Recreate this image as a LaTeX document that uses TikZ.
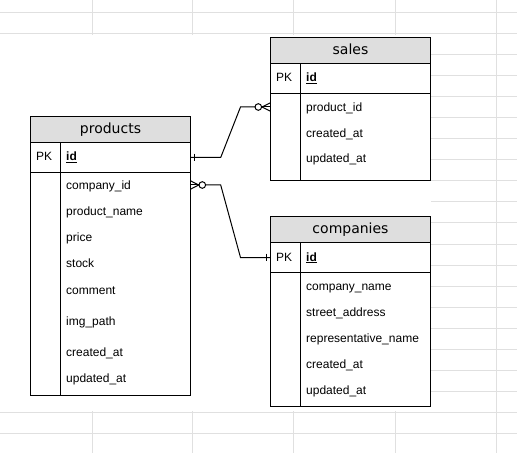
\documentclass[tikz,border=0pt]{standalone}
\usepackage{fontspec}
\setmainfont{Liberation Sans}
\newfontfamily\titlefont{DejaVu Sans}
\definecolor{gridgray}{HTML}{E0E0E0}
\definecolor{hdrgray}{HTML}{DEDEDE}
\tikzset{
  gridline/.style={draw=gridgray, line width=1bp},
  tblbox/.style={draw=black, line width=1bp, inner sep=0pt, outer sep=0pt, anchor=north west, minimum width=160bp},
  hdrbox/.style={tblbox, fill=hdrgray, minimum height=26bp},
  titletext/.style={anchor=base, inner sep=0pt, font=\titlefont\fontsize{14bp}{16bp}\selectfont},
  fldtext/.style={anchor=base west, inner sep=0pt, font=\fontsize{12bp}{14bp}\selectfont},
  conn/.style={draw=black, line width=1bp},
}
\begin{document}
\begin{tikzpicture}[x=1bp,y=-1bp]
\useasboundingbox (0,0) rectangle (517,453);
\fill[white] (0,0) rectangle (517,453);
% spreadsheet grid
\foreach \k in {0,...,20} {\draw[gridline] (0,13+21*\k) -- (517,13+21*\k);}
\foreach \xx in {92,192.5,293,395,496} {\draw[gridline] (\xx,0) -- (\xx,453);}
\fill[white] (0,34.6) rectangle (431,411.4);

% ---------- products ----------
\node[hdrbox] (pHead) at (30.5,116.5) {};
\node[titletext] (pTitle) at (110.5,133.3) {products};
\node[tblbox, minimum height=30bp] (pPK) at (30.5,142.5) {};
\node[tblbox, minimum height=223bp] (pBody) at (30.5,172.5) {};
\draw[line width=1bp] (60.5,142.5) -- (60.5,395.5);
\node[fldtext] (pPKt) at (36,161) {PK};
\node[fldtext] (pId) at (66,161) {\underline{\textbf{id}}};
\node[fldtext] (pF1) at (66,189.3) {company\_id};
\node[fldtext] (pF2) at (66,216) {product\_name};
\node[fldtext] (pF3) at (66,241.5) {price};
\node[fldtext] (pF4) at (66,267.8) {stock};
\node[fldtext] (pF5) at (66,294.2) {comment};
\node[fldtext] (pF6) at (66,325) {img\_path};
\node[fldtext] (pF7) at (66,356) {created\_at};
\node[fldtext] (pF8) at (66,382.2) {updated\_at};

% ---------- sales ----------
\node[hdrbox] (sHead) at (270.5,37.5) {};
\node[titletext] (sTitle) at (350.5,54.3) {sales};
\node[tblbox, minimum height=30bp] (sPK) at (270.5,63.5) {};
\node[tblbox, minimum height=87.5bp] (sBody) at (270.5,93.5) {};
\draw[line width=1bp] (300.5,63.5) -- (300.5,181);
\node[fldtext] (sPKt) at (276,82) {PK};
\node[fldtext] (sId) at (306,82) {\underline{\textbf{id}}};
\node[fldtext] (sF1) at (306,111.7) {product\_id};
\node[fldtext] (sF2) at (306,137.3) {created\_at};
\node[fldtext] (sF3) at (306,163) {updated\_at};

% ---------- companies ----------
\node[hdrbox] (cHead) at (270.5,216.5) {};
\node[titletext] (cTitle) at (350.5,233.3) {companies};
\node[tblbox, minimum height=30bp] (cPK) at (270.5,242.5) {};
\node[tblbox, minimum height=133.5bp] (cBody) at (270.5,272.5) {};
\draw[line width=1bp] (300.5,242.5) -- (300.5,406);
\node[fldtext] (cPKt) at (276,261) {PK};
\node[fldtext] (cId) at (306,261) {\underline{\textbf{id}}};
\node[fldtext] (cF1) at (306,290) {company\_name};
\node[fldtext] (cF2) at (306,316) {street\_address};
\node[fldtext] (cF3) at (306,342) {representative\_name};
\node[fldtext] (cF4) at (306,368) {created\_at};
\node[fldtext] (cF5) at (306,394) {updated\_at};

% ---------- connectors ----------
\coordinate (sIn) at (270.5,107);
\coordinate (pOut) at (190.5,185);
\coordinate (cIn) at (cPK.west);

% products.id (one) -> sales.product_id (zero or many)
\draw[conn] (pPK.east) -- ++(30.2,0) -- ([xshift=-30bp]sIn) -- ([xshift=-15.5bp]sIn);
\draw[conn] ([xshift=4bp,yshift=3.8bp]pPK.east) -- ++(0,7.6);
\draw[conn] ([xshift=-12.2bp]sIn) circle[radius=3.3bp];
\draw[conn] ([xshift=-8.4bp]sIn) -- ([yshift=-4.2bp]sIn);
\draw[conn] ([xshift=-8.4bp]sIn) -- ([yshift=4.2bp]sIn);
\draw[conn] ([xshift=-8.9bp]sIn) -- (sIn);

% products.company_id (zero or many) -> companies.id (one)
\draw[conn] ([xshift=15.2bp]pOut) -- ([xshift=30.2bp]pOut) -- ([xshift=-30bp]cIn) -- (cIn);
\draw[conn] ([xshift=11.8bp]pOut) circle[radius=3.3bp];
\draw[conn] ([xshift=8.2bp]pOut) -- ([yshift=-4.2bp]pOut);
\draw[conn] ([xshift=8.2bp]pOut) -- ([yshift=4.2bp]pOut);
\draw[conn] ([xshift=8.5bp]pOut) -- (pOut);
\draw[conn] ([xshift=-4bp,yshift=3.8bp]cIn) -- ++(0,7.6);
\end{tikzpicture}
\end{document}
